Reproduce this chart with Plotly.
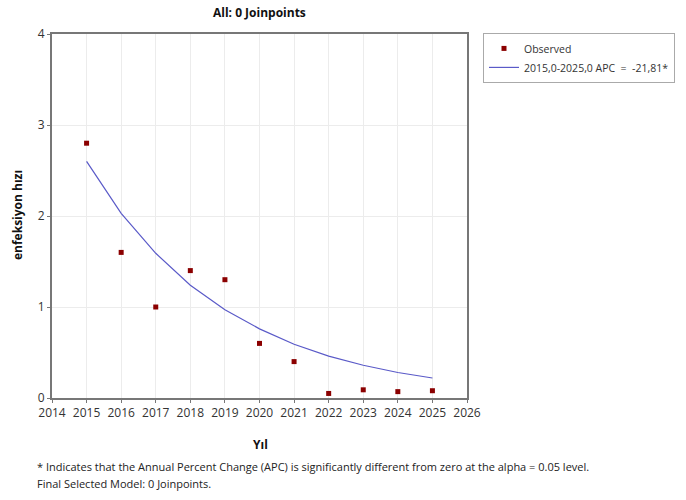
import plotly.graph_objects as go

years = [2015, 2016, 2017, 2018, 2019, 2020, 2021, 2022, 2023, 2024, 2025]
observed = [2.80, 1.60, 1.00, 1.40, 1.30, 0.60, 0.40, 0.05, 0.09, 0.07, 0.08]
fitted = [2.60, 2.03, 1.59, 1.24, 0.97, 0.76, 0.59, 0.46, 0.36, 0.28, 0.22]
x_ticks = list(range(2014, 2027))
y_ticks = [0, 1, 2, 3, 4]

FONT = "Open Sans"
L, R, T, B = 52, 467, 34, 398
PW, PH = R - L, B - T

fig = go.Figure()
fig.add_trace(go.Scatter(
    x=years, y=observed, mode="markers", name="Observed",
    marker=dict(symbol="square", size=5, color="#8b0000"),
))
fig.add_trace(go.Scatter(
    x=years, y=fitted, mode="lines", name="2015,0-2025,0 APC  =  -21,81*",
    line=dict(color="#5a5ac8", width=1.2),
))

fig.update_layout(
    width=686, height=500,
    margin=dict(l=L, r=686 - R, t=T, b=500 - B, autoexpand=False),
    paper_bgcolor="white", plot_bgcolor="white",
    font=dict(family=FONT, size=12, color="#222"),
    showlegend=True,
    legend=dict(
        x=(483 - L) / PW, y=1.003, xanchor="left", yanchor="top",
        bordercolor="#aaaaaa", borderwidth=1,
        font=dict(family=FONT, size=10.5, color="#333"),
        tracegroupgap=0, itemwidth=30,
    ),
    xaxis=dict(
        range=[2014, 2026], tickvals=x_ticks, ticktext=[str(v) for v in x_ticks],
        showgrid=True, gridcolor="#ececec", gridwidth=1,
        showline=True, linecolor="#777", linewidth=2, mirror=True,
        ticks="outside", ticklen=3, tickcolor="#777",
        zeroline=False, tickfont=dict(size=12, color="#333"),
        automargin=False,
    ),
    yaxis=dict(
        range=[0, 4], tickvals=y_ticks,
        showgrid=True, gridcolor="#ececec", gridwidth=1,
        showline=True, linecolor="#777", linewidth=2, mirror=True,
        ticks="outside", ticklen=3, tickcolor="#777",
        zeroline=False, tickfont=dict(size=12, color="#333"),
        automargin=False,
    ),
)

# chart title
fig.add_annotation(
    xref="paper", yref="paper", x=0.5, y=(B - 13) / PH,
    xanchor="center", yanchor="middle", showarrow=False,
    text="<b>All: 0 Joinpoints</b>", font=dict(family=FONT, size=12, color="#111"),
)
# axis titles
fig.add_annotation(
    xref="paper", yref="paper", x=(260 - L) / PW, y=-(444 - B) / PH,
    xanchor="center", yanchor="middle", showarrow=False,
    text="<b>Yıl</b>", font=dict(family=FONT, size=12, color="#111"),
)
fig.add_annotation(
    xref="paper", yref="paper", x=-(L - 17) / PW, y=(B - 215) / PH,
    xanchor="center", yanchor="middle", showarrow=False, textangle=-90,
    text="<b>enfeksiyon hızı</b>", font=dict(family=FONT, size=12, color="#111"),
)

fig.add_annotation(
    xref="paper", yref="paper", x=-(L - 35) / PW, y=-(466 - B) / PH,
    xanchor="left", yanchor="middle", showarrow=False, align="left",
    text="* Indicates that the Annual Percent Change (APC) is significantly different from zero at the alpha = 0.05 level.",
    font=dict(family=FONT, size=11, color="#222"),
)
fig.add_annotation(
    xref="paper", yref="paper", x=-(L - 35) / PW, y=-(483 - B) / PH,
    xanchor="left", yanchor="middle", showarrow=False, align="left",
    text="Final Selected Model: 0 Joinpoints.",
    font=dict(family=FONT, size=11, color="#222"),
)

fig.write_html("out.html", config={"displayModeBar": False},
               post_script="document.body.style.margin='0px';")
